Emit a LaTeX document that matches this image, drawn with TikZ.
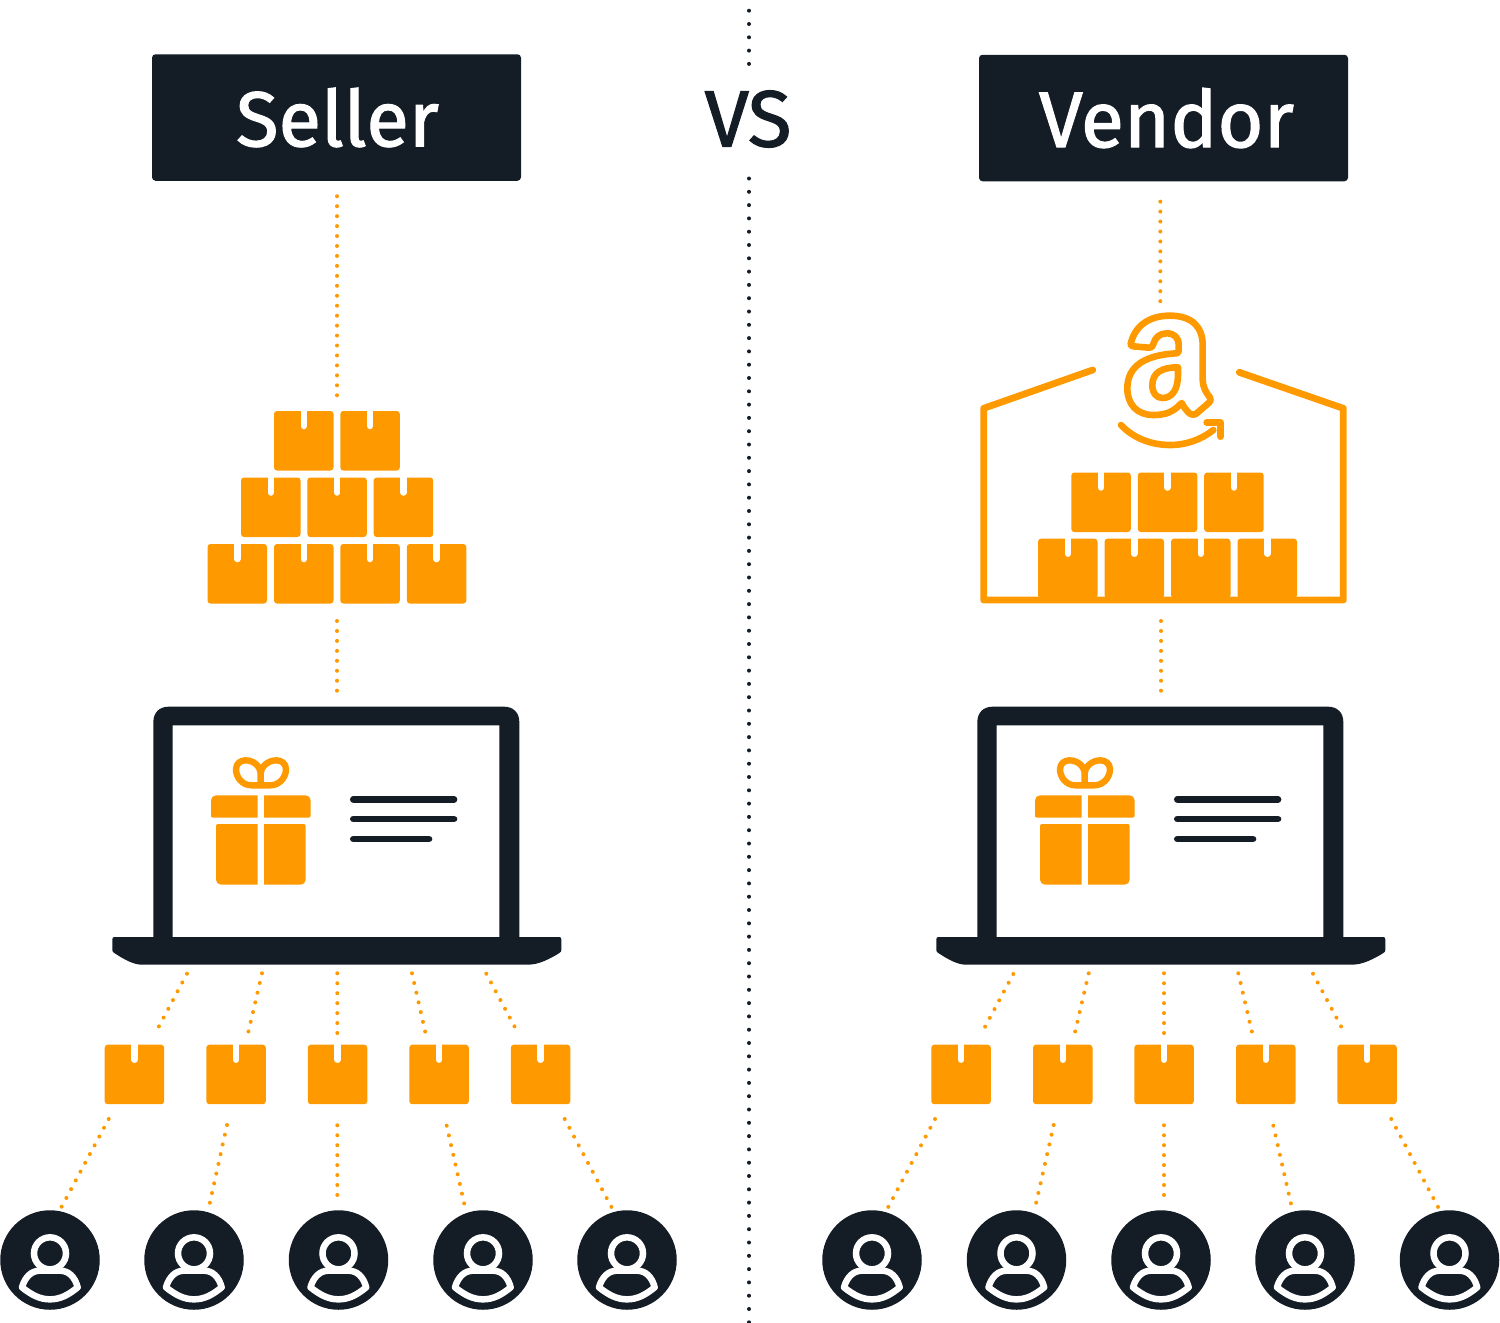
\documentclass[tikz,border=0pt]{standalone}
\usepackage{fontspec}
\setmainfont{Fira Sans}
\newfontfamily\headfont[FakeBold=1.4]{Fira Sans}
\usetikzlibrary{calc}
\definecolor{amz}{HTML}{FF9900}
\definecolor{ink}{HTML}{141C25}
\tikzset{
  every node/.style={inner sep=0pt,outer sep=0pt},
  headbox/.style={fill=ink,rounded corners=3.5pt,minimum width=369,minimum height=126.5,text=white,font=\headfont\fontsize{78}{78}\selectfont},
  parcelbox/.style={fill=amz,rounded corners=3pt,minimum width=59.5,minimum height=59.5,anchor=north west},
  notchline/.style={white,line width=6.5pt,line cap=round},
  ghost/.style={draw=none,fill=none},
  orangedots/.style={amz,line width=4pt,line cap=round,dash pattern=on 0pt off 9.95pt},
  inkdots/.style={ink,line width=4pt,line cap=round,dash pattern=on 0pt off 13.3pt},
  usernode/.style={circle,fill=ink,minimum size=99.5},
  zoomscale/.style={x=0.33333pt,y=-0.33333pt},
}
\newcommand\parcel[3]{%
  \node[parcelbox] (#1) at (#2,#3) {};
  \draw[notchline] (#1.north) -- ($(#1.north)+(0,15)$);
}
\newcommand\link[5]{\draw[#1] ($(#2)+(#3)$) -- ($(#4)+(#5)$);}
\newcommand\person[2]{%
  \node[usernode] (#1) at (#2,1260) {};
  \begin{scope}[shift={(#1.center)},zoomscale]
    \draw[white,line width=6.5pt] (0,-20) circle[radius=48];
    \draw[white,line width=6.5pt,line join=round]
      (-84,82) .. controls (-75,50) and (-55,32) .. (-30,32) -- (30,32)
      .. controls (55,32) and (75,50) .. (83,82)
      .. controls (55,105) and (30,118) .. (0,118)
      .. controls (-30,118) and (-55,105) .. (-84,82) -- cycle;
  \end{scope}
}
\newcommand\laptop[2]{%
  \node[ghost,minimum width=449,minimum height=258] (#1) at (336.8+#2,835.7) {};
  \begin{scope}[shift={(100+#2,700)},zoomscale]
    \fill[ink,even odd rule]
      (160,712) -- (160,66) .. controls (160,38) and (178,20) .. (206,20) -- (1212,20)
      .. controls (1240,20) and (1258,38) .. (1258,66) -- (1258,712) -- cycle
      (218,76) -- (1198,76) -- (1198,714) -- (218,714) -- cycle;
    \fill[ink] (44,711) -- (1377,711) .. controls (1382,711) and (1384,713) .. (1384,718)
      -- (1384,750) .. controls (1384,754) and (1382,757) .. (1378,759)
      .. controls (1350,777) and (1315,794) .. (1285,794) -- (125,794)
      .. controls (100,794) and (70,777) .. (43,759)
      .. controls (39,757) and (37,754) .. (37,750) -- (37,718)
      .. controls (37,713) and (39,711) .. (44,711) -- cycle;
    % gift
    \draw[amz,line width=6.4pt,line join=round]
      (482,256) -- (455,256) .. controls (425,256) and (408,230) .. (408,208)
      .. controls (408,190) and (422,181) .. (437,181)
      .. controls (462,181) and (482,200) .. (482,222) -- (482,256)
      -- (510,256) .. controls (540,256) and (558,230) .. (558,208)
      .. controls (558,190) and (544,181) .. (529,181)
      .. controls (504,181) and (482,200) .. (482,222);
    \fill[amz] (473,372) -- (473,554) [rounded corners=5pt] -- (348,554) [rounded corners=2pt] -- (348,372) [sharp corners] -- cycle;
    \fill[amz] (492,372) -- (492,554) [rounded corners=5pt] -- (617,554) [rounded corners=2pt] -- (617,372) [sharp corners] -- cycle;
    \fill[amz] (473,286) [rounded corners=5pt] -- (333,286) [rounded corners=2pt] -- (333,353) [sharp corners] -- (473,353) -- cycle;
    \fill[amz] (492,286) [rounded corners=5pt] -- (632,286) [rounded corners=2pt] -- (632,353) [sharp corners] -- (492,353) -- cycle;
    % text lines
    \draw[ink,line width=6.7pt,line cap=round] (760,298) -- (1062,298);
    \draw[ink,line width=6.7pt,line cap=round] (760,357) -- (1062,357);
    \draw[ink,line width=6.7pt,line cap=round] (760,417) -- (987,417);
  \end{scope}
}
\begin{document}
\begin{tikzpicture}[x=1pt,y=-1pt]
\useasboundingbox (0,0) rectangle (1500,1323);
% headers
\node[headbox] (seller) at (336.5,117.5) {\hspace{2pt}Seller};
\node[headbox,font=\headfont\fontsize{79}{79}\selectfont] (vendor) at (1163.5,118) {\hspace{6pt}Vendor};
\node[text=ink,font=\headfont\fontsize{80}{80}\selectfont] (vs) at (748,119) {VS};
% centre line
\coordinate (ctop) at (749,10.7);
\coordinate (cmida) at (749,66);
\coordinate (cmidb) at (749,178.5);
\coordinate (cbot) at (749,1323);
\draw[inkdots] (ctop) -- (cmida);
\draw[inkdots] (cmidb) -- (cbot);
% seller pile
\node[ghost,minimum width=259,minimum height=192] (pileS) at (337,507) {};
\parcel{aa}{274}{411}\parcel{ab}{340.3}{411}
\parcel{ba}{241}{477.5}\parcel{bb}{307.3}{477.5}\parcel{bc}{373.7}{477.5}
\parcel{ca}{207.5}{544}\parcel{cb}{274}{544}\parcel{cc}{340.3}{544}\parcel{cd}{406.8}{544}
% warehouse
\node[ghost,minimum width=365,minimum height=291] (wh) at (1163.5,457.5) {};
\parcel{da}{1071.3}{472.5}\parcel{db}{1137.8}{472.5}\parcel{dc}{1204.2}{472.5}
\parcel{ea}{1038}{538.7}\parcel{eb}{1104.5}{538.7}\parcel{ec}{1171}{538.7}\parcel{ed}{1237.5}{538.7}
\begin{scope}[shift={(970,300)},zoomscale]
  \draw[amz,line width=6.8pt,line cap=round,line join=round]
    (368,210) -- (41,325) -- (41,900) -- (1120,900) -- (1120,325) -- (808,217);
  \draw[amz,line width=6.6pt,line join=round]
    (482,132) .. controls (495,75) and (540,47) .. (600,47)
    .. controls (665,47) and (698,80) .. (698,135)
    -- (698,240) .. controls (698,262) and (710,280) .. (720,293)
    .. controls (724,300) and (722,304) .. (716,309)
    -- (680,340) .. controls (672,346) and (664,345) .. (656,338)
    .. controls (648,330) and (642,322) .. (635,309)
    .. controls (610,335) and (590,345) .. (550,345)
    .. controls (500,345) and (472,312) .. (472,265)
    .. controls (472,195) and (530,165) .. (618,160)
    .. controls (624,160) and (626,158) .. (626,152)
    -- (626,135) .. controls (626,112) and (612,100) .. (590,100)
    .. controls (570,100) and (555,112) .. (550,132)
    .. controls (548,141) and (544,144) .. (536,143)
    -- (490,139) .. controls (484,138) and (481,136) .. (482,132) -- cycle;
  \draw[amz,line width=6.6pt,line join=round]
    (624,202) -- (624,225) .. controls (624,270) and (605,294) .. (578,294)
    .. controls (558,294) and (547,278) .. (547,256)
    .. controls (547,218) and (575,202) .. (624,202) -- cycle;
  \draw[amz,line width=6.6pt,line cap=round]
    (453,375) .. controls (490,415) and (545,435) .. (600,435)
    .. controls (650,435) and (695,418) .. (730,390);
  \draw[amz,line width=6.6pt,line cap=round,line join=round]
    (710,368) -- (752,368) -- (752,410);
\end{scope}
% laptops
\laptop{lapS}{0}
\laptop{lapV}{824}
% parcels row
\parcel{pa}{104.7}{1044.7}\parcel{pb}{206.3}{1044.7}\parcel{pc}{307.8}{1044.7}\parcel{pd}{409.3}{1044.7}\parcel{pe}{510.8}{1044.7}
\parcel{qa}{931.3}{1044.7}\parcel{qb}{1033}{1044.7}\parcel{qc}{1134.3}{1044.7}\parcel{qd}{1236}{1044.7}\parcel{qe}{1337.3}{1044.7}
% users
\person{ua}{50}\person{ub}{194}\person{uc}{338.5}\person{ud}{483}\person{ue}{627}
\person{va}{872}\person{vb}{1016.5}\person{vc}{1161}\person{vd}{1305}\person{ve}{1449.5}
% vertical connectors
\link{orangedots}{seller.south}{.5,15.5}{pileS.north}{0,-14.3}
\link{orangedots}{pileS.south}{0,18}{lapS.north}{.2,-15.2}
\link{orangedots}{vendor.south}{-3.2,20.4}{wh.north}{-3.2,-10.2}
\link{orangedots}{wh.south}{-2.5,18}{lapV.north}{.2,-15.2}
% laptop to parcels, seller
\link{orangedots}{lapS.south}{-149.8,9}{pa.north}{24.25,-17.9}
\link{orangedots}{lapS.south}{-74.8,8.6}{pb.north}{12.25,-12.5}
\link{orangedots}{lapS.south}{.5,8.6}{pc.north}{-.25,-10.9}
\link{orangedots}{lapS.south}{75.2,8.6}{pd.north}{-13.75,-12.5}
\link{orangedots}{lapS.south}{149.5,9}{pe.north}{-25.85,-17.9}
% parcels to users, seller
\link{orangedots}{pa.south}{-25.75,14.8}{ua.north}{11.3,-2.9}
\link{orangedots}{pb.south}{-9.05,20.8}{ub.north}{15.7,-6.8}
\link{orangedots}{pc.south}{-.25,21.1}{uc.north}{-1.2,-14.8}
\link{orangedots}{pd.south}{7.65,21.5}{ud.north}{-18.7,-6.3}
\link{orangedots}{pe.south}{24.15,14.8}{ue.north}{-15.3,-2.8}
% laptop to parcels, vendor
\link{orangedots}{lapV.south}{-147.5,9.3}{qa.north}{23.95,-17.9}
\link{orangedots}{lapV.south}{-72.1,8.6}{qb.north}{12.25,-12.5}
\link{orangedots}{lapV.south}{3.2,8.6}{qc.north}{-.05,-10.9}
\link{orangedots}{lapV.south}{77.5,8.6}{qd.north}{-13.75,-12.5}
\link{orangedots}{lapV.south}{152.2,9}{qe.north}{-25.75,-17.9}
% parcels to users, vendor
\link{orangedots}{qa.south}{-26.05,14.8}{va.north}{16,-2.8}
\link{orangedots}{qb.south}{-9.05,20.8}{vb.north}{19.5,-6.8}
\link{orangedots}{qc.south}{-.05,21.1}{vc.north}{3,-14.8}
\link{orangedots}{qd.south}{7.55,21.5}{vd.north}{-14,-6.5}
\link{orangedots}{qe.south}{24.25,14.8}{ve.north}{-11.2,-2.8}
\end{tikzpicture}
\end{document}
